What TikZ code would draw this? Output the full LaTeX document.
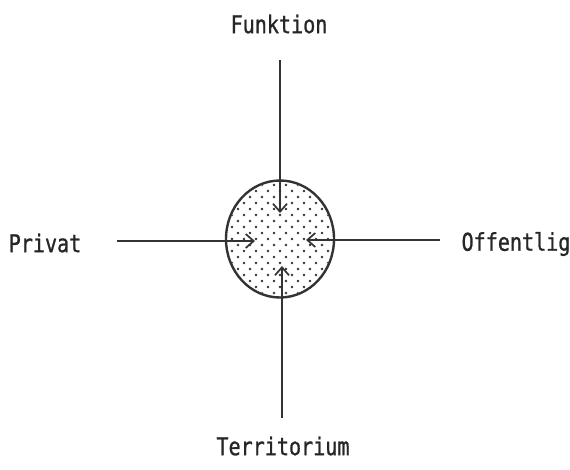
\documentclass[tikz,border=0pt]{standalone}
\usepackage{fontspec}
\newfontfamily\labfont[FakeStretch=0.82,FakeBold=1]{DejaVu Sans Mono}
\usetikzlibrary{arrows.meta,shapes.geometric}
\begin{document}
\begin{tikzpicture}[x=1pt,y=-1pt,
  lab/.style={font=\labfont\fontsize{24.5}{26}\selectfont, inner sep=0pt, text=black!85},
  axis/.style={line width=1.7pt, draw=black!80, -{Straight Barb[length=8pt,width=14pt,line width=1.7pt]}},
  dotc/.style={fill=black!80},
  disk/.style={ellipse, draw=black!80, line width=2.4pt, minimum width=108pt, minimum height=117pt, inner sep=0pt}]
\useasboundingbox (0,0) rectangle (570,469);
% central disk
\node[disk] (c) at (280,239) {};
\begin{scope}
  \clip (280,239) ellipse [x radius=52.5, y radius=57];
  \foreach \i in {-10,...,10} {
    \pgfmathsetmacro{\off}{mod(abs(\i),2)*6}
    \foreach \j in {-5,...,5} {
      \fill[dotc] ({280+12*\j+\off},{239+6*\i}) circle [radius=1.4];
    }
  }
\end{scope}
% labels
\node[lab] (fun) at (279,24) {Funktion};
\node[lab] (ter) at (283,446) {Territorium};
\node[lab] (pri) at (45,243) {Privat};
\node[lab] (off) at (516,244) {Offentlig};
% line ends
\coordinate (ftop) at (280,60);
\coordinate (ftip) at (280,213);
\coordinate (tbot) at (282,418);
\coordinate (ttip) at (282,266);
\coordinate (pl) at (117,241);
\coordinate (ptip) at (255,241);
\coordinate (orr) at (440,240);
\coordinate (otip) at (306,240);
\draw[axis] (ftop) -- (ftip);
\draw[axis] (tbot) -- (ttip);
\draw[axis] (pl) -- (ptip);
\draw[axis] (orr) -- (otip);
\end{tikzpicture}
\end{document}
